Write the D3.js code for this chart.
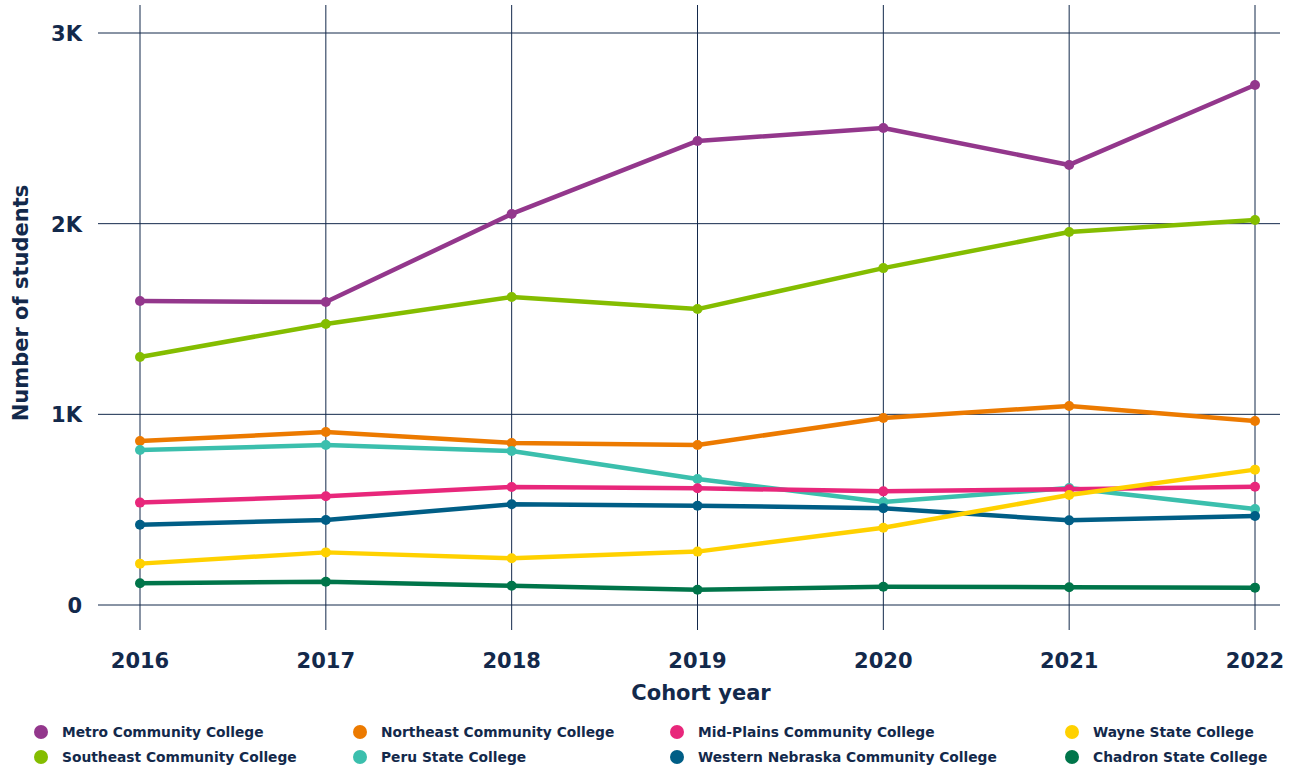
<html><head>
<script src="https://d3js.org/d3.v7.min.js"></script>
<style>
  body { margin: 0; background: #fff; }
  text { font-family: 'DejaVu Sans', 'Noto Sans', sans-serif; font-weight: 700; fill: #13294b; }
</style>
</head>
<body>
<svg id="plot" width="1294" height="770"></svg>
<script>
  // Data
  const years = [2016, 2017, 2018, 2019, 2020, 2021, 2022]
  const colleges = ["Metro Community College", "Southeast Community College", "Northeast Community College",
    "Peru State College", "Mid-Plains Community College", "Western Nebraska Community College",
    "Wayne State College", "Chadron State College"]
  const colors = ["#93378c", "#84bd00", "#ec7a00", "#3bbfad", "#e8277b", "#005e86", "#ffd100", "#00754a"]
  const metro = [1594, 1589, 2051, 2434, 2502, 2308, 2727]
  const southeast = [1301, 1474, 1615, 1552, 1767, 1956, 2019]
  const northeast = [860, 907, 850, 839, 981, 1044, 965]
  const peru = [813, 839, 808, 661, 540, 614, 503]
  const midPlains = [537, 570, 619, 612, 596, 607, 620]
  const westernNebraska = [421, 446, 528, 521, 507, 444, 467]
  const wayne = [217, 276, 245, 280, 405, 577, 710]
  const chadron = [114, 122, 101, 80, 96, 93, 91]
  const yTicks = [0, 1000, 2000, 3000]
  const yTickLabels = ["0", "1K", "2K", "3K"]

  const seriesValues = [metro, southeast, northeast, peru, midPlains, westernNebraska, wayne, chadron]
  const series = colleges.map((name, i) => ({name: name, color: colors[i], values: seriesValues[i]}))

  const svg = d3.select("#plot")
  const x = d3.scalePoint().domain(years).range([140, 1255])
  const y = d3.scaleLinear().domain([0, 3000]).range([605, 33])

  // gridlines
  const grid = svg.append("g")
  grid.selectAll("line.h").data(yTicks).join("line").attr("class", "h")
      .attr("x1", 98).attr("x2", 1280)
      .attr("y1", d => y(d)).attr("y2", d => y(d))
      .attr("stroke", "#13294b").attr("stroke-width", 1)
  grid.selectAll("line.v").data(years).join("line").attr("class", "v")
      .attr("x1", d => x(d)).attr("x2", d => x(d))
      .attr("y1", 5).attr("y2", 630)
      .attr("stroke", "#13294b").attr("stroke-width", 1)

  // axis labels
  svg.append("g").selectAll("text").data(yTicks).join("text")
      .attr("x", 82).attr("y", d => y(d) + 8)
      .attr("text-anchor", "end").style("font-size", "21px")
      .text((d, i) => yTickLabels[i])
  svg.append("g").selectAll("text").data(years).join("text")
      .attr("x", d => x(d)).attr("y", 668)
      .attr("text-anchor", "middle").style("font-size", "21px")
      .text(d => d)

  svg.append("text").attr("x", 701).attr("y", 700)
      .attr("text-anchor", "middle").style("font-size", "21px")
      .text("Cohort year")
  svg.append("text").attr("transform", "translate(28,303) rotate(-90)")
      .attr("text-anchor", "middle").style("font-size", "21px")
      .text("Number of students")

  // lines
  const line = d3.line().x((d, i) => x(years[i])).y(d => y(d))
  const lines = svg.append("g")
  series.forEach(s => {
    const g = lines.append("g")
    g.append("path").datum(s.values)
        .attr("d", line).attr("fill", "none")
        .attr("stroke", s.color).attr("stroke-width", 4.5)
        .attr("stroke-linejoin", "round")
    g.selectAll("circle").data(s.values).join("circle")
        .attr("cx", (d, i) => x(years[i])).attr("cy", d => y(d))
        .attr("r", 5).attr("fill", s.color)
  })

  // legend: 4 columns, 2 rows, filled column-wise
  const colX = [41, 360, 677, 1072]
  const rowY = [732, 757]
  const legend = svg.append("g").selectAll("g").data(series).join("g")
      .attr("transform", (d, i) => `translate(${colX[Math.floor(i / 2)]},${rowY[i % 2]})`)
  legend.append("circle").attr("r", 7).attr("fill", d => d.color)
  legend.append("text").attr("x", 21).attr("y", 5)
      .style("font-size", "13.8px").text(d => d.name)
</script>
</body>
</html>
